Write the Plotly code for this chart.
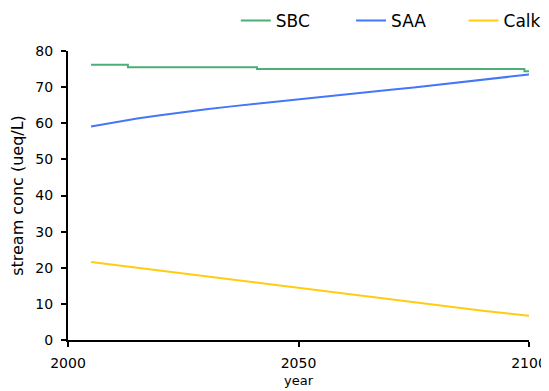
import plotly.graph_objects as go

# values
years = [2005, 2010, 2015, 2020, 2025, 2030, 2035, 2040, 2045, 2050,
         2055, 2060, 2065, 2070, 2075, 2080, 2085, 2090, 2095, 2099, 2100]
saa = [59.1, 60.3, 61.3, 62.2, 63.1, 63.9, 64.6, 65.3, 66.0, 66.6,
       67.3, 67.9, 68.6, 69.3, 69.9, 70.6, 71.3, 72.0, 72.7, 73.2, 73.5]
calk = [21.6, 20.8, 20.1, 19.3, 18.5, 17.7, 16.9, 16.0, 15.2, 14.3,
        13.5, 12.7, 11.9, 11.1, 10.3, 9.6, 8.9, 8.1, 7.4, 7.0, 6.7]

# SBC only changes in small steps
sbc_years = [2005, 2013, 2041, 2099, 2100]
sbc = [76.2, 75.5, 75.0, 74.4, 74.4]

FONT = "DejaVu Sans, Verdana, sans-serif"

fig = go.Figure()
fig.add_trace(go.Scatter(x=sbc_years, y=sbc, name="SBC", mode="lines", legend="legend",
                         line=dict(color="#4caf78", width=2, shape="hv")))
fig.add_trace(go.Scatter(x=years, y=saa, name="SAA", mode="lines", legend="legend2",
                         line=dict(color="#4477f7", width=2)))
fig.add_trace(go.Scatter(x=years, y=calk, name="Calk", mode="lines", legend="legend3",
                         line=dict(color="#ffcc11", width=2)))

axis_common = dict(showline=True, linecolor="black", linewidth=2, ticks="outside",
                   ticklen=5, tickwidth=2, tickcolor="black", showgrid=False,
                   zeroline=False, ticklabeloverflow="allow",
                   tickfont=dict(size=14, color="black"))


def _legend(x):
    return dict(orientation="h", x=x, xanchor="left", y=1.104, yanchor="middle",
                font=dict(size=17, family=FONT), bgcolor="rgba(0,0,0,0)")


# page body has an 8px margin, the figure sits inside it
fig.update_layout(
    width=541, height=383,
    margin=dict(l=60, r=20, t=43, b=51, autoexpand=False),
    paper_bgcolor="white", plot_bgcolor="white",
    font=dict(family=FONT, color="black"),
    xaxis=dict(range=[2000, 2100], dtick=50, ticklabelstandoff=4,
               title=dict(text="year", font=dict(size=13), standoff=6), **axis_common),
    yaxis=dict(range=[0, 80], dtick=10, ticklabelstandoff=5,
               title=dict(text="stream conc (ueq/L)", font=dict(size=16), standoff=11), **axis_common),
    legend=_legend(0.364),
    legend2=_legend(0.614),
    legend3=_legend(0.858),
    showlegend=True,
)

fig.write_html("out.html")
